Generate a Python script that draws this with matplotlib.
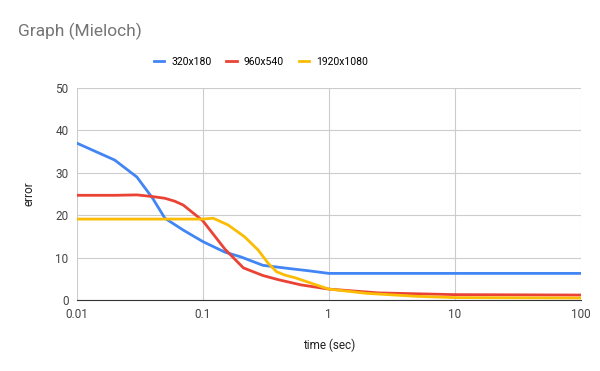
import matplotlib.pyplot as plt
from matplotlib.ticker import FixedLocator, FixedFormatter

plt.rcParams['font.family'] = ['Roboto', 'DejaVu Sans']

# values
x_320 = [0.01, 0.02, 0.03, 0.04, 0.05, 0.07, 0.1, 0.15, 0.2, 0.3, 0.5, 0.7, 1, 2, 10, 100]
y_320 = [37.0, 33.0, 29.0, 24.0, 19.3, 16.5, 13.8, 11.3, 10.2, 8.2, 7.4, 6.9, 6.3, 6.3, 6.3, 6.3]

x_960 = [0.01, 0.02, 0.03, 0.04, 0.05, 0.06, 0.07, 0.1, 0.15, 0.21, 0.3, 0.4, 0.6, 1, 2.5, 10, 100]
y_960 = [24.7, 24.7, 24.8, 24.4, 24.0, 23.3, 22.4, 18.7, 12.0, 7.6, 5.8, 4.8, 3.6, 2.6, 1.7, 1.3, 1.2]

x_1920 = [0.01, 0.05, 0.1, 0.121, 0.159, 0.215, 0.275, 0.33, 0.385, 0.448, 0.537, 1, 2, 5, 10, 100]
y_1920 = [19.1, 19.1, 19.1, 19.3, 17.7, 14.9, 11.8, 8.7, 6.7, 5.9, 5.3, 2.6, 1.6, 0.9, 0.6, 0.5]

labels = ['320x180', '960x540', '1920x1080']
colors = ['#4285F4', '#EA4335', '#FBBC04']

x_ticks = [0.01, 0.1, 1, 10, 100]
x_tick_labels = ['0.01', '0.1', '1', '10', '100']
y_ticks = [0, 10, 20, 30, 40, 50]

fig = plt.figure(figsize=(6, 3.71), dpi=100)
ax = fig.add_axes([0.128, 0.191, 0.84, 0.572])

for xs, ys, lab, c in zip([x_320, x_960, x_1920], [y_320, y_960, y_1920], labels, colors):
    ax.plot(xs, ys, color=c, lw=2, label=lab, solid_joinstyle='round')

ax.set_xscale('log')
ax.set_xlim(0.01, 100)
ax.set_ylim(0, 50)
ax.xaxis.set_major_locator(FixedLocator(x_ticks))
ax.xaxis.set_major_formatter(FixedFormatter(x_tick_labels))
ax.xaxis.set_minor_locator(FixedLocator([]))
ax.set_yticks(y_ticks)

ax.grid(True, color='#cccccc', lw=0.8)
ax.set_axisbelow(True)
for s in ['top', 'right', 'left']:
    ax.spines[s].set_visible(False)
ax.spines['bottom'].set_color('#333333')
ax.tick_params(length=0, labelsize=8.5, colors='#444444', pad=6)

ax.set_xlabel('time (sec)', fontsize=8.5, color='#222222', labelpad=12)
ax.set_ylabel('error', fontsize=8.5, color='#222222', labelpad=14)

fig.text(0.03, 0.915, 'Graph (Mieloch)', fontsize=12.5, color='#757575', va='center')
fig.legend(loc='center', bbox_to_anchor=(0.435, 0.833), ncol=3, frameon=False,
           fontsize=7.5, handlelength=1.0, handletextpad=0.7, columnspacing=1.4)

fig.savefig('out.png', dpi=100)
